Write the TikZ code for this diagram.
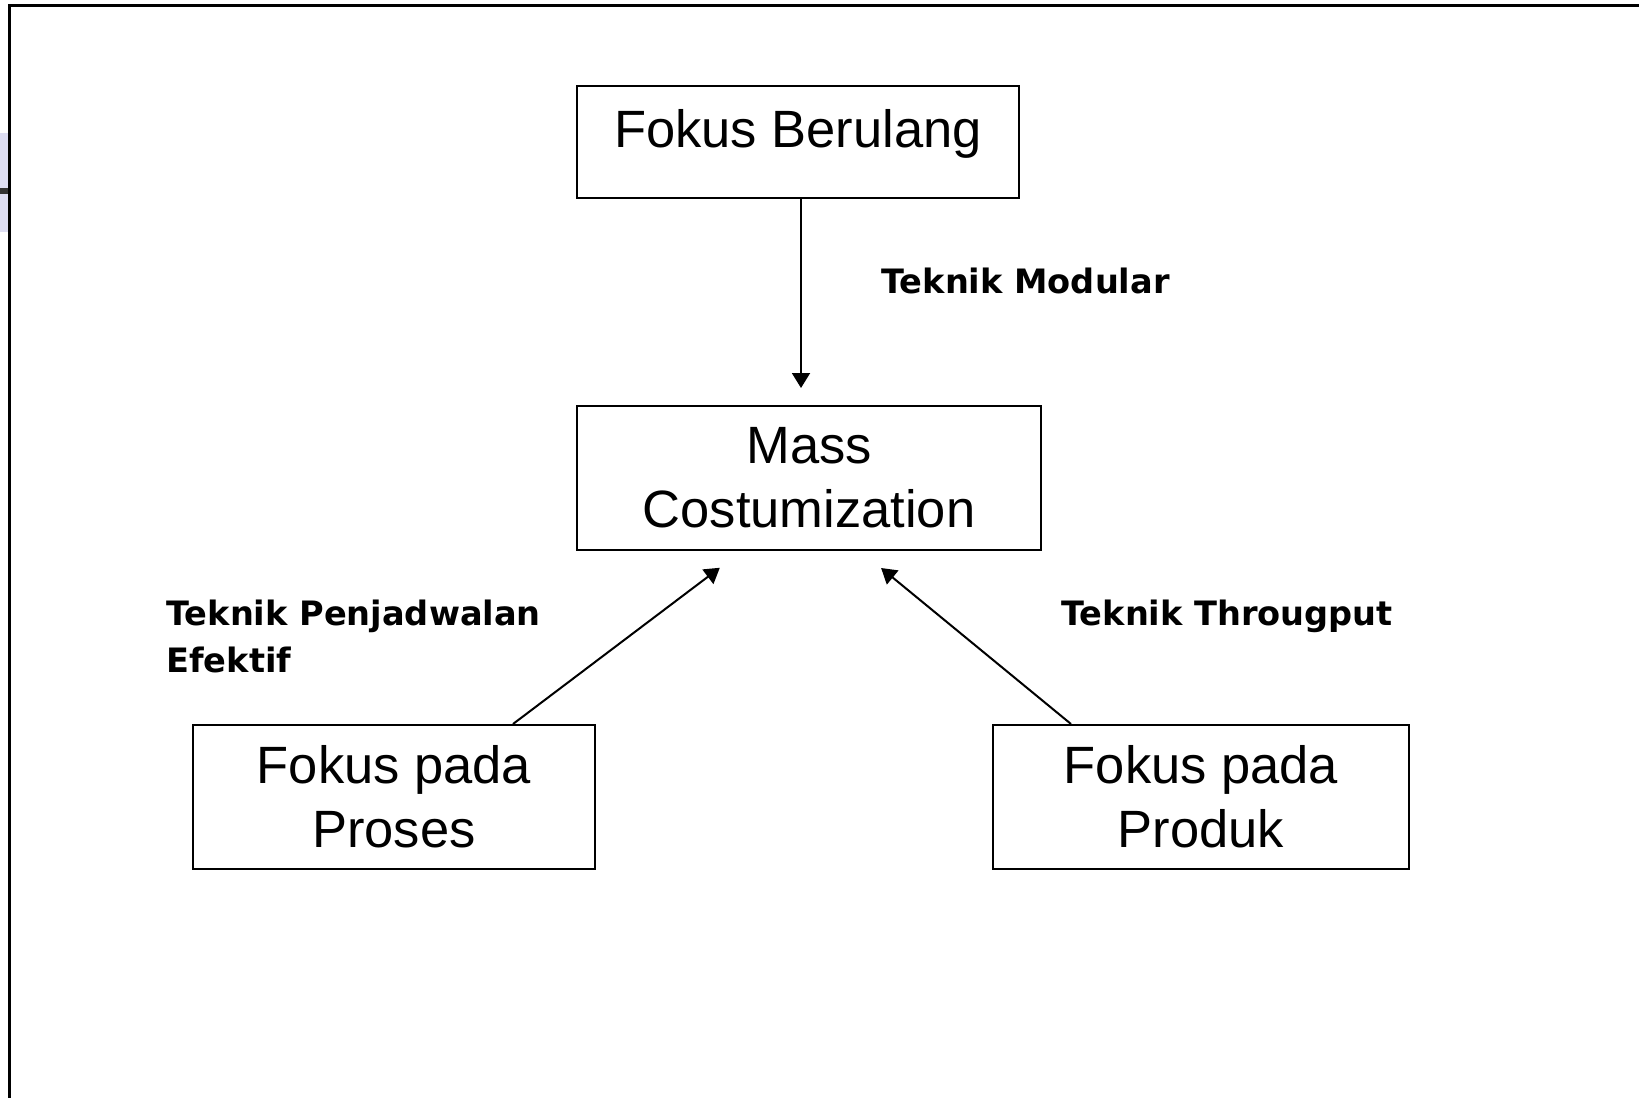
\documentclass[tikz,border=0pt]{standalone}
\usepackage{fontspec}
\setmainfont{Liberation Sans}
\newfontfamily\tekfont{DejaVu Sans}
\usetikzlibrary{arrows.meta, positioning}
\definecolor{stripcol}{HTML}{DDDDF2}

\begin{document}
\begin{tikzpicture}[x=0.5pt, y=-0.5pt,
    box/.style={draw, line width=1pt, inner sep=0pt, align=center, font=\fontsize{26.25pt}{32pt}\selectfont},
    arrow/.style={draw, line width=1pt, -{Triangle[length=7.5pt,width=9pt]}},
    tlabel/.style={anchor=base west, inner sep=0pt, align=left, font=\tekfont\bfseries\fontsize{16.8pt}{23.5pt}\selectfont}
]
    \useasboundingbox (0,0) rectangle (1639,1098);

    % Frame
    \fill[stripcol] (0,133) rectangle (8,232);
    \fill[black!80] (0,188) rectangle (8,194);
    \draw[line width=1.5pt] (1639,5.5) -- (9.5,5.5) -- (9.5,1098);

    % Boxes
    \node[box, minimum width=221pt, text height=30.5pt, text depth=25.5pt] (berulang) at (798,142) {Fokus Berulang};
    \node[box, minimum width=232pt, minimum height=72pt] (mass) at (809,478) {Mass\\Costumization};
    \node[box, minimum width=201pt, minimum height=72pt] (proses) at (394,797) {Fokus pada\\Proses};
    \node[box, minimum width=208pt, minimum height=72pt] (produk) at (1201,797) {Fokus pada\\Produk};

    % Flow
    \draw[arrow, shorten >=8.5pt] ([xshift=1.5pt]berulang.south) -- ([xshift=-4pt]mass.north);
    \draw[arrow, shorten >=13.9pt] ([xshift=59.5pt]proses.north) -- ([xshift=-33.5pt]mass.south);
    \draw[arrow, shorten >=13.4pt] ([xshift=-65pt]produk.north) -- ([xshift=25.7pt]mass.south);

    % Labels (base = last line)
    \node[tlabel] (modular) at (881,293) {Teknik Modular};
    \node[tlabel] (jadwal) at (166,672) {Teknik Penjadwalan\\Efektif};
    \node[tlabel] (througput) at (1061,625) {Teknik Througput};

\end{tikzpicture}
\end{document}
